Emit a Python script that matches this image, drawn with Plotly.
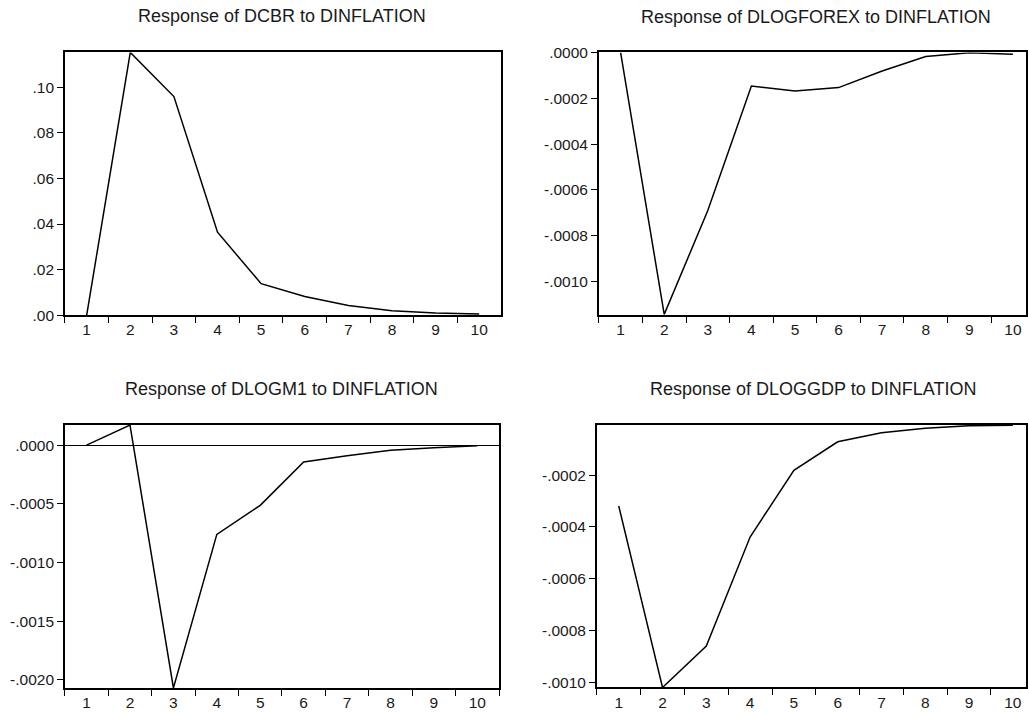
import plotly.graph_objects as go

periods = ["1", "2", "3", "4", "5", "6", "7", "8", "9", "10"]

dcbr = [0.0, 0.1154, 0.0960, 0.0364, 0.0138, 0.0082, 0.0042, 0.0019, 0.0009, 0.0005]
dlogforex = [0.0, -0.001143, -0.00069, -0.000146, -0.000168, -0.000153, -0.0000805, -0.0000175, -0.000001, -0.0000075]
dlogm1 = [0.0, 0.000171, -0.00207, -0.000761, -0.000513, -0.000143, -0.0000912, -0.0000427, -0.000023, -0.000006]
dloggdp = [-0.000319, -0.00102, -0.00086, -0.000439, -0.000181, -0.000071, -0.000036, -0.000019, -0.000009, -0.000007]

titles = ["Response of DCBR to DINFLATION", "Response of DLOGFOREX to DINFLATION",
          "Response of DLOGM1 to DINFLATION", "Response of DLOGGDP to DINFLATION"]

yt1_vals = [0.0, 0.02, 0.04, 0.06, 0.08, 0.10]
yt1_text = [".00", ".02", ".04", ".06", ".08", ".10"]
yt2_vals = [0.0, -0.0002, -0.0004, -0.0006, -0.0008, -0.0010]
yt2_text = [".0000", "-.0002", "-.0004", "-.0006", "-.0008", "-.0010"]
yt3_vals = [0.0, -0.0005, -0.0010, -0.0015, -0.0020]
yt3_text = [".0000", "-.0005", "-.0010", "-.0015", "-.0020"]
yt4_vals = [-0.0002, -0.0004, -0.0006, -0.0008, -0.0010]
yt4_text = ["-.0002", "-.0004", "-.0006", "-.0008", "-.0010"]

W, H = 1028, 713
FONT = "Liberation Sans, Arial, sans-serif"
TXT = "#1a1a1a"

fig = go.Figure()
series = [dcbr, dlogforex, dlogm1, dloggdp]
for i, s in enumerate(series):
    fig.add_trace(go.Scatter(x=periods, y=s, mode="lines",
                             line=dict(color="black", width=1.5),
                             xaxis="x" if i == 0 else f"x{i+1}",
                             yaxis="y" if i == 0 else f"y{i+1}",
                             showlegend=False, hoverinfo="skip"))

def vy(y):
    # vertical pixel position adjusted for the page rendering
    return (y - 9) / 0.975

def px_x(a, b):
    return [a / W, min(b / W, 1.0)]

def px_y(top, bottom):
    return [max(0.0, 1 - vy(bottom) / H), 1 - vy(top) / H]

panels = [
    dict(xd=px_x(65, 502), yd=px_y(53.3, 315.3), xr=[-0.5, 9.5], yr=[0.0, 0.1154], tv=yt1_vals, tt=yt1_text),
    dict(xd=px_x(600, 1028), yd=px_y(53.3, 315.0), xr=[-0.5, 9.3], yr=[-0.001145, 0.0000005], tv=yt2_vals, tt=yt2_text),
    dict(xd=px_x(65, 500), yd=px_y(425, 687.3), xr=[-0.5, 9.5], yr=[-0.002071, 0.000171], tv=yt3_vals, tt=yt3_text),
    dict(xd=px_x(598, 1028), yd=px_y(425, 686.7), xr=[-0.5, 9.3], yr=[-0.00102, -0.0000066], tv=yt4_vals, tt=yt4_text),
]

layout = dict(width=W, height=H, margin=dict(l=0, r=0, t=0, b=0),
              paper_bgcolor="white", plot_bgcolor="white",
              font=dict(family=FONT, size=15.5, color=TXT))

for i, p in enumerate(panels):
    xk = "xaxis" if i == 0 else f"xaxis{i+1}"
    yk = "yaxis" if i == 0 else f"yaxis{i+1}"
    xa = "x" if i == 0 else f"x{i+1}"
    ya = "y" if i == 0 else f"y{i+1}"
    layout[xk] = dict(domain=p["xd"], anchor=ya, type="category", range=p["xr"],
                      tickson="boundaries", ticks="outside", ticklen=6, tickwidth=1.3,
                      tickcolor="black", showline=True, linecolor="black", linewidth=1.5,
                      mirror=True, showgrid=False, zeroline=False,
                      tickfont=dict(family=FONT, size=15.5, color=TXT))
    layout[yk] = dict(domain=p["yd"], anchor=xa, range=p["yr"],
                      tickvals=p["tv"], ticktext=p["tt"], ticks="outside", ticklen=6,
                      tickwidth=1.3, tickcolor="black", showline=True, linecolor="black",
                      linewidth=1.5, mirror=True, showgrid=False,
                      zeroline=True, zerolinecolor="black", zerolinewidth=1,
                      tickfont=dict(family=FONT, size=15.5, color=TXT))

fig.update_layout(**layout)

title_pos = [(282.5, 17), (818, 18), (282, 389), (815, 389)]
for t, (cx, cy) in zip(titles, title_pos):
    fig.add_annotation(text=t, x=cx / W, y=1 - vy(cy) / H, xref="paper", yref="paper",
                       showarrow=False, xanchor="center", yanchor="middle",
                       font=dict(family=FONT, size=18, color=TXT))

fig.write_html("out.html")
